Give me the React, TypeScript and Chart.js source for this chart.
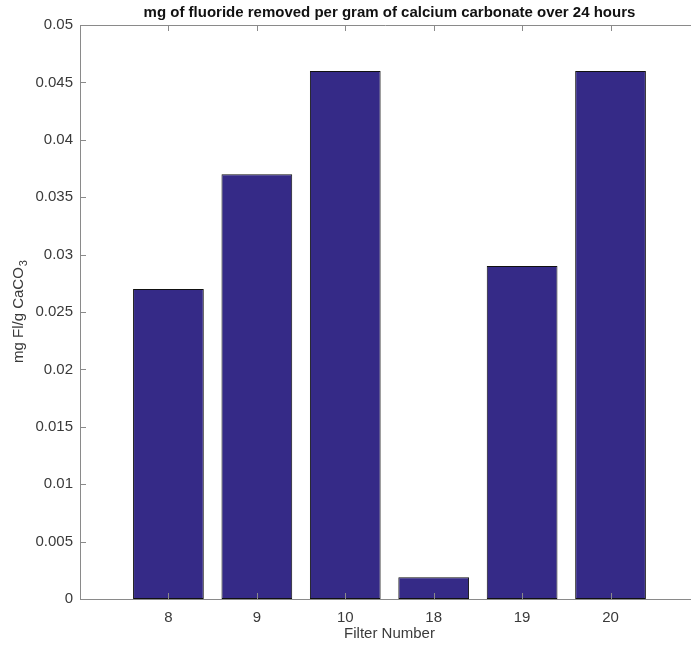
import { useEffect, useRef } from 'react';
import { Chart, registerables } from 'chart.js';

Chart.register(...registerables);

const categories = ['8', '9', '10', '18', '19', '20'];
const values = [0.027, 0.037, 0.046, 0.0019, 0.029, 0.046];
const yMin = 0;
const yMax = 0.05;
const yStep = 0.005;
const titleText = 'mg of fluoride removed per gram of calcium carbonate over 24 hours';
const xAxisLabel = 'Filter Number';
const yAxisLabelMain = 'mg Fl/g CaCO';
const yAxisLabelSub = '3';

const FONT = '"Liberation Sans", Arial, Helvetica, sans-serif';
const AXIS_COLOR = '#8a8a8a';
const TEXT_COLOR = '#3a3a3a';

const decorPlugin = {
  id: 'matlabDecor',
  afterDraw(chart: any) {
    const ctx = chart.ctx;
    const area = chart.chartArea;
    const xs = chart.scales.x;
    const ys = chart.scales.y;
    ctx.save();
    ctx.strokeStyle = AXIS_COLOR;
    ctx.lineWidth = 1;
    ctx.beginPath();
    ctx.moveTo(area.left, area.top + 0.5);
    ctx.lineTo(area.right, area.top + 0.5);
    ctx.stroke();
    ctx.beginPath();
    ys.ticks.forEach((t: any) => {
      const y = Math.round(ys.getPixelForValue(t.value)) + 0.5;
      ctx.moveTo(area.left, y);
      ctx.lineTo(area.left + 6, y);
    });
    xs.ticks.forEach((t: any) => {
      const x = Math.round(xs.getPixelForValue(t.value)) + 0.5;
      ctx.moveTo(x, area.bottom);
      ctx.lineTo(x, area.bottom - 6);
      ctx.moveTo(x, area.top);
      ctx.lineTo(x, area.top + 6);
    });
    ctx.stroke();

    const xCenter = (xs.getPixelForValue(0) + xs.getPixelForValue(7)) / 2;
    ctx.fillStyle = '#111';
    ctx.font = `bold 15px ${FONT}`;
    ctx.textAlign = 'center';
    ctx.textBaseline = 'middle';
    ctx.fillText(titleText, xCenter, 13);

    ctx.fillStyle = TEXT_COLOR;
    ctx.font = `15px ${FONT}`;
    ctx.fillText(xAxisLabel, xCenter, 634);

    const yCenter = (area.top + area.bottom) / 2;
    ctx.translate(19, yCenter);
    ctx.rotate(-Math.PI / 2);
    ctx.font = `15px ${FONT}`;
    const wMain = ctx.measureText(yAxisLabelMain).width;
    ctx.font = `11px ${FONT}`;
    const wSub = ctx.measureText(yAxisLabelSub).width;
    const total = wMain + wSub;
    ctx.textAlign = 'left';
    ctx.font = `15px ${FONT}`;
    ctx.fillText(yAxisLabelMain, -total / 2, 0);
    ctx.font = `11px ${FONT}`;
    ctx.fillText(yAxisLabelSub, -total / 2 + wMain + 1, 5);
    ctx.restore();
  },
};

export default function App() {
  const ref = useRef<HTMLCanvasElement | null>(null);
  useEffect(() => {
    if (!ref.current) return;
    const chart = new Chart(ref.current, {
      type: 'bar',
      data: {
        datasets: [
          {
            data: categories.map((c, i) => ({ x: i + 1, y: values[i] })),
            backgroundColor: '#352A87',
            borderColor: '#111',
            borderWidth: 1,
            borderSkipped: false,
            barPercentage: 0.8,
            categoryPercentage: 1,
          },
        ],
      },
      options: {
        responsive: false,
        animation: false,
        layout: { padding: { top: 25, left: 0, right: 0, bottom: 0 } },
        plugins: { legend: { display: false }, tooltip: { enabled: false }, title: { display: false } },
        scales: {
          x: {
            type: 'linear',
            offset: false,
            min: 0,
            max: 6.91,
            grid: { display: false, drawTicks: false, offset: false },
            border: { display: true, color: AXIS_COLOR, width: 1 },
            afterBuildTicks: (scale: any) => {
              scale.ticks = categories.map((c, i) => ({ value: i + 1 }));
            },
            afterFit: (scale: any) => {
              scale.height = 46;
            },
            ticks: {
              padding: 10,
              color: TEXT_COLOR,
              font: { family: FONT, size: 15 },
              maxRotation: 0,
              autoSkip: false,
              callback: (v: any) => categories[Number(v) - 1] ?? '',
            },
          },
          y: {
            type: 'linear',
            min: yMin,
            max: yMax,
            grid: { display: false, drawTicks: false },
            border: { display: true, color: AXIS_COLOR, width: 1 },
            afterFit: (scale: any) => {
              scale.width = 80;
            },
            ticks: {
              stepSize: yStep,
              padding: 7,
              color: TEXT_COLOR,
              font: { family: FONT, size: 15 },
              callback: (v: any) => String(parseFloat(Number(v).toFixed(4))),
            },
          },
        },
      },
      plugins: [decorPlugin],
    });
    return () => chart.destroy();
  }, []);
  return (
    <div style={{ position: 'absolute', left: 0, top: 0, width: 691, height: 645, background: '#fff' }}>
      <canvas ref={ref} width={691} height={645} style={{ display: 'block' }} />
    </div>
  );
}
